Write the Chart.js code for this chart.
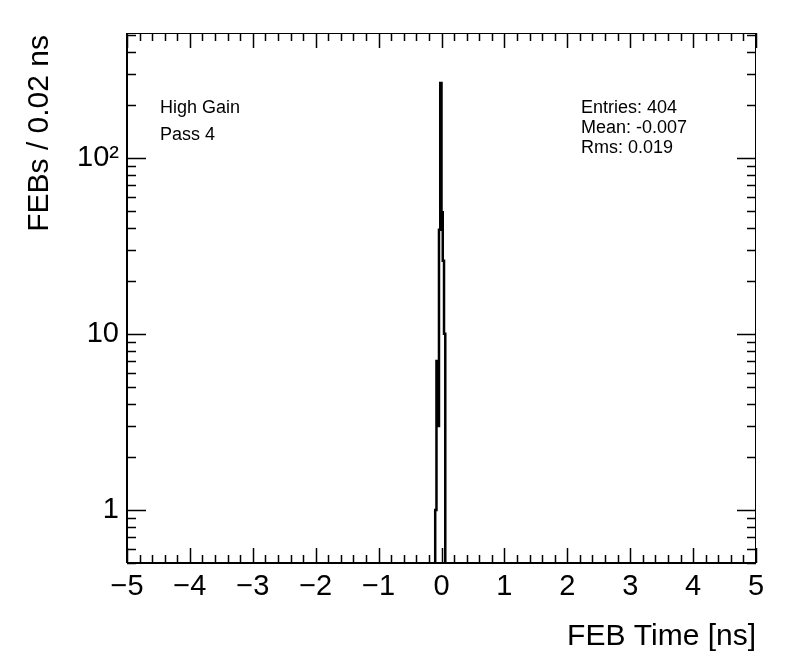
<!DOCTYPE html>
<html>
<head>
<meta charset="utf-8">
<script src="https://cdn.jsdelivr.net/npm/chart.js@4.4.1/dist/chart.umd.min.js"></script>
<style>
  html, body { margin: 0; padding: 0; background: #ffffff; }
  #wrap { width: 796px; height: 672px; }
</style>
</head>
<body>
<div id="wrap"><canvas id="c" width="796" height="672"></canvas></div>
<script>
// ---- Data ----
const binWidth = 0.02;
const binLowEdges = [-0.10, -0.08, -0.06, -0.04, -0.02, 0.00, 0.02, 0.04];
const counts      = [1, 7, 3, 39, 265, 49, 26, 10];
const xTickValues = [-5, -4, -3, -2, -1, 0, 1, 2, 3, 4, 5];
const yTickValues = [1, 10, 100];
const yTickLabels = ['1', '10', '10\u00B2'];
const xRange = [-5, 5];
const yRange = [0.5, 510];
const labelLines = ['High Gain', 'Pass 4'];
const statLines = ['Entries: 404', 'Mean: -0.007', 'Rms: 0.019'];
const xTitle = 'FEB Time [ns]';
const yTitle = 'FEBs / 0.02 ns';

// Build histogram step outline from the bins
const stepPoints = [];
stepPoints.push({ x: binLowEdges[0], y: yRange[0] });
for (let i = 0; i < counts.length; i++) {
  stepPoints.push({ x: binLowEdges[i], y: counts[i] });
  stepPoints.push({ x: binLowEdges[i] + binWidth, y: counts[i] });
}
stepPoints.push({ x: binLowEdges[binLowEdges.length - 1] + binWidth, y: yRange[0] });

const FONT = '"Liberation Sans", Arial, Helvetica, sans-serif';

const rootFrame = {
  id: 'rootFrame',
  afterDraw(chart) {
    const ctx = chart.ctx;
    const a = chart.chartArea;
    const xs = chart.scales.x, ys = chart.scales.y;
    ctx.save();
    ctx.strokeStyle = '#000';
    // frame
    ctx.lineWidth = 1;
    ctx.strokeRect(a.left + 0.5, a.top + 0.5, a.right - a.left - 1, a.bottom - a.top);
    // axes lines (thicker)
    ctx.lineWidth = 2;
    ctx.beginPath();
    ctx.moveTo(a.left, a.bottom); ctx.lineTo(a.right, a.bottom);
    ctx.moveTo(a.left, a.top); ctx.lineTo(a.left, a.bottom);
    ctx.stroke();
    // x ticks (bottom & top)
    ctx.lineWidth = 1.5;
    ctx.beginPath();
    for (let k = 0; k <= 50; k++) {
      const v = xRange[0] + k * 0.2;
      const px = Math.round(xs.getPixelForValue(v)) + 0.5;
      const len = (k % 5 === 0) ? 15 : 8;
      ctx.moveTo(px, a.bottom); ctx.lineTo(px, a.bottom - len);
      ctx.moveTo(px, a.top); ctx.lineTo(px, a.top + len);
    }
    // y ticks (left & right), log minor ticks
    for (let d = -1; d <= 2; d++) {
      for (let m = 1; m <= 9; m++) {
        const v = m * Math.pow(10, d);
        if (v < yRange[0] || v > yRange[1]) continue;
        const py = Math.round(ys.getPixelForValue(v)) + 0.5;
        const len = (m === 1) ? 19 : 9;
        ctx.moveTo(a.left, py); ctx.lineTo(a.left + len, py);
        ctx.moveTo(a.right, py); ctx.lineTo(a.right - len, py);
      }
    }
    ctx.stroke();

    // titles
    ctx.fillStyle = '#000';
    ctx.font = '30px ' + FONT;
    ctx.textAlign = 'right';
    ctx.textBaseline = 'middle';
    ctx.fillText(xTitle, a.right, 637);
    ctx.save();
    ctx.translate(40, a.top + 2);
    ctx.rotate(-Math.PI / 2);
    ctx.fillText(yTitle, 0, 0);
    ctx.restore();

    // text labels
    ctx.font = '18px ' + FONT;
    ctx.textAlign = 'left';
    ctx.textBaseline = 'middle';
    ctx.fillText(labelLines[0], 160, 108);
    ctx.fillText(labelLines[1], 160, 135);
    statLines.forEach((s, i) => ctx.fillText(s, 581, 108 + i * 20));
    ctx.restore();
  }
};

new Chart(document.getElementById('c'), {
  type: 'line',
  data: {
    datasets: [{
      data: stepPoints,
      borderColor: '#000000',
      borderWidth: 2.5,
      pointRadius: 0,
      tension: 0,
      fill: false,
      borderJoinStyle: 'miter'
    }]
  },
  options: {
    responsive: false,
    animation: false,
    events: [],
    layout: { padding: { left: 0, top: 33, right: 40, bottom: 0 } },
    plugins: { legend: { display: false }, tooltip: { enabled: false }, title: { display: false } },
    scales: {
      x: {
        type: 'linear',
        min: xRange[0], max: xRange[1],
        grid: { display: false, drawTicks: false },
        border: { display: false },
        afterBuildTicks: (s) => { s.ticks = xTickValues.map(v => ({ value: v })); },
        afterFit: (s) => { s.height = 109; },
        ticks: {
          padding: 7,
          color: '#000',
          font: { family: FONT, size: 29 },
          maxRotation: 0,
          autoSkip: false,
          callback: (v) => String(v).replace('-', '\u2212')
        }
      },
      y: {
        type: 'logarithmic',
        min: yRange[0], max: yRange[1],
        grid: { display: false, drawTicks: false },
        border: { display: false },
        afterBuildTicks: (s) => { s.ticks = yTickValues.map(v => ({ value: v })); },
        afterFit: (s) => { s.width = 127; },
        ticks: {
          padding: 8,
          color: '#000',
          font: { family: FONT, size: 29 },
          autoSkip: false,
          callback: (v) => { const i = yTickValues.indexOf(v); return i >= 0 ? yTickLabels[i] : ''; }
        }
      }
    }
  },
  plugins: [rootFrame]
});
</script>
</body>
</html>
